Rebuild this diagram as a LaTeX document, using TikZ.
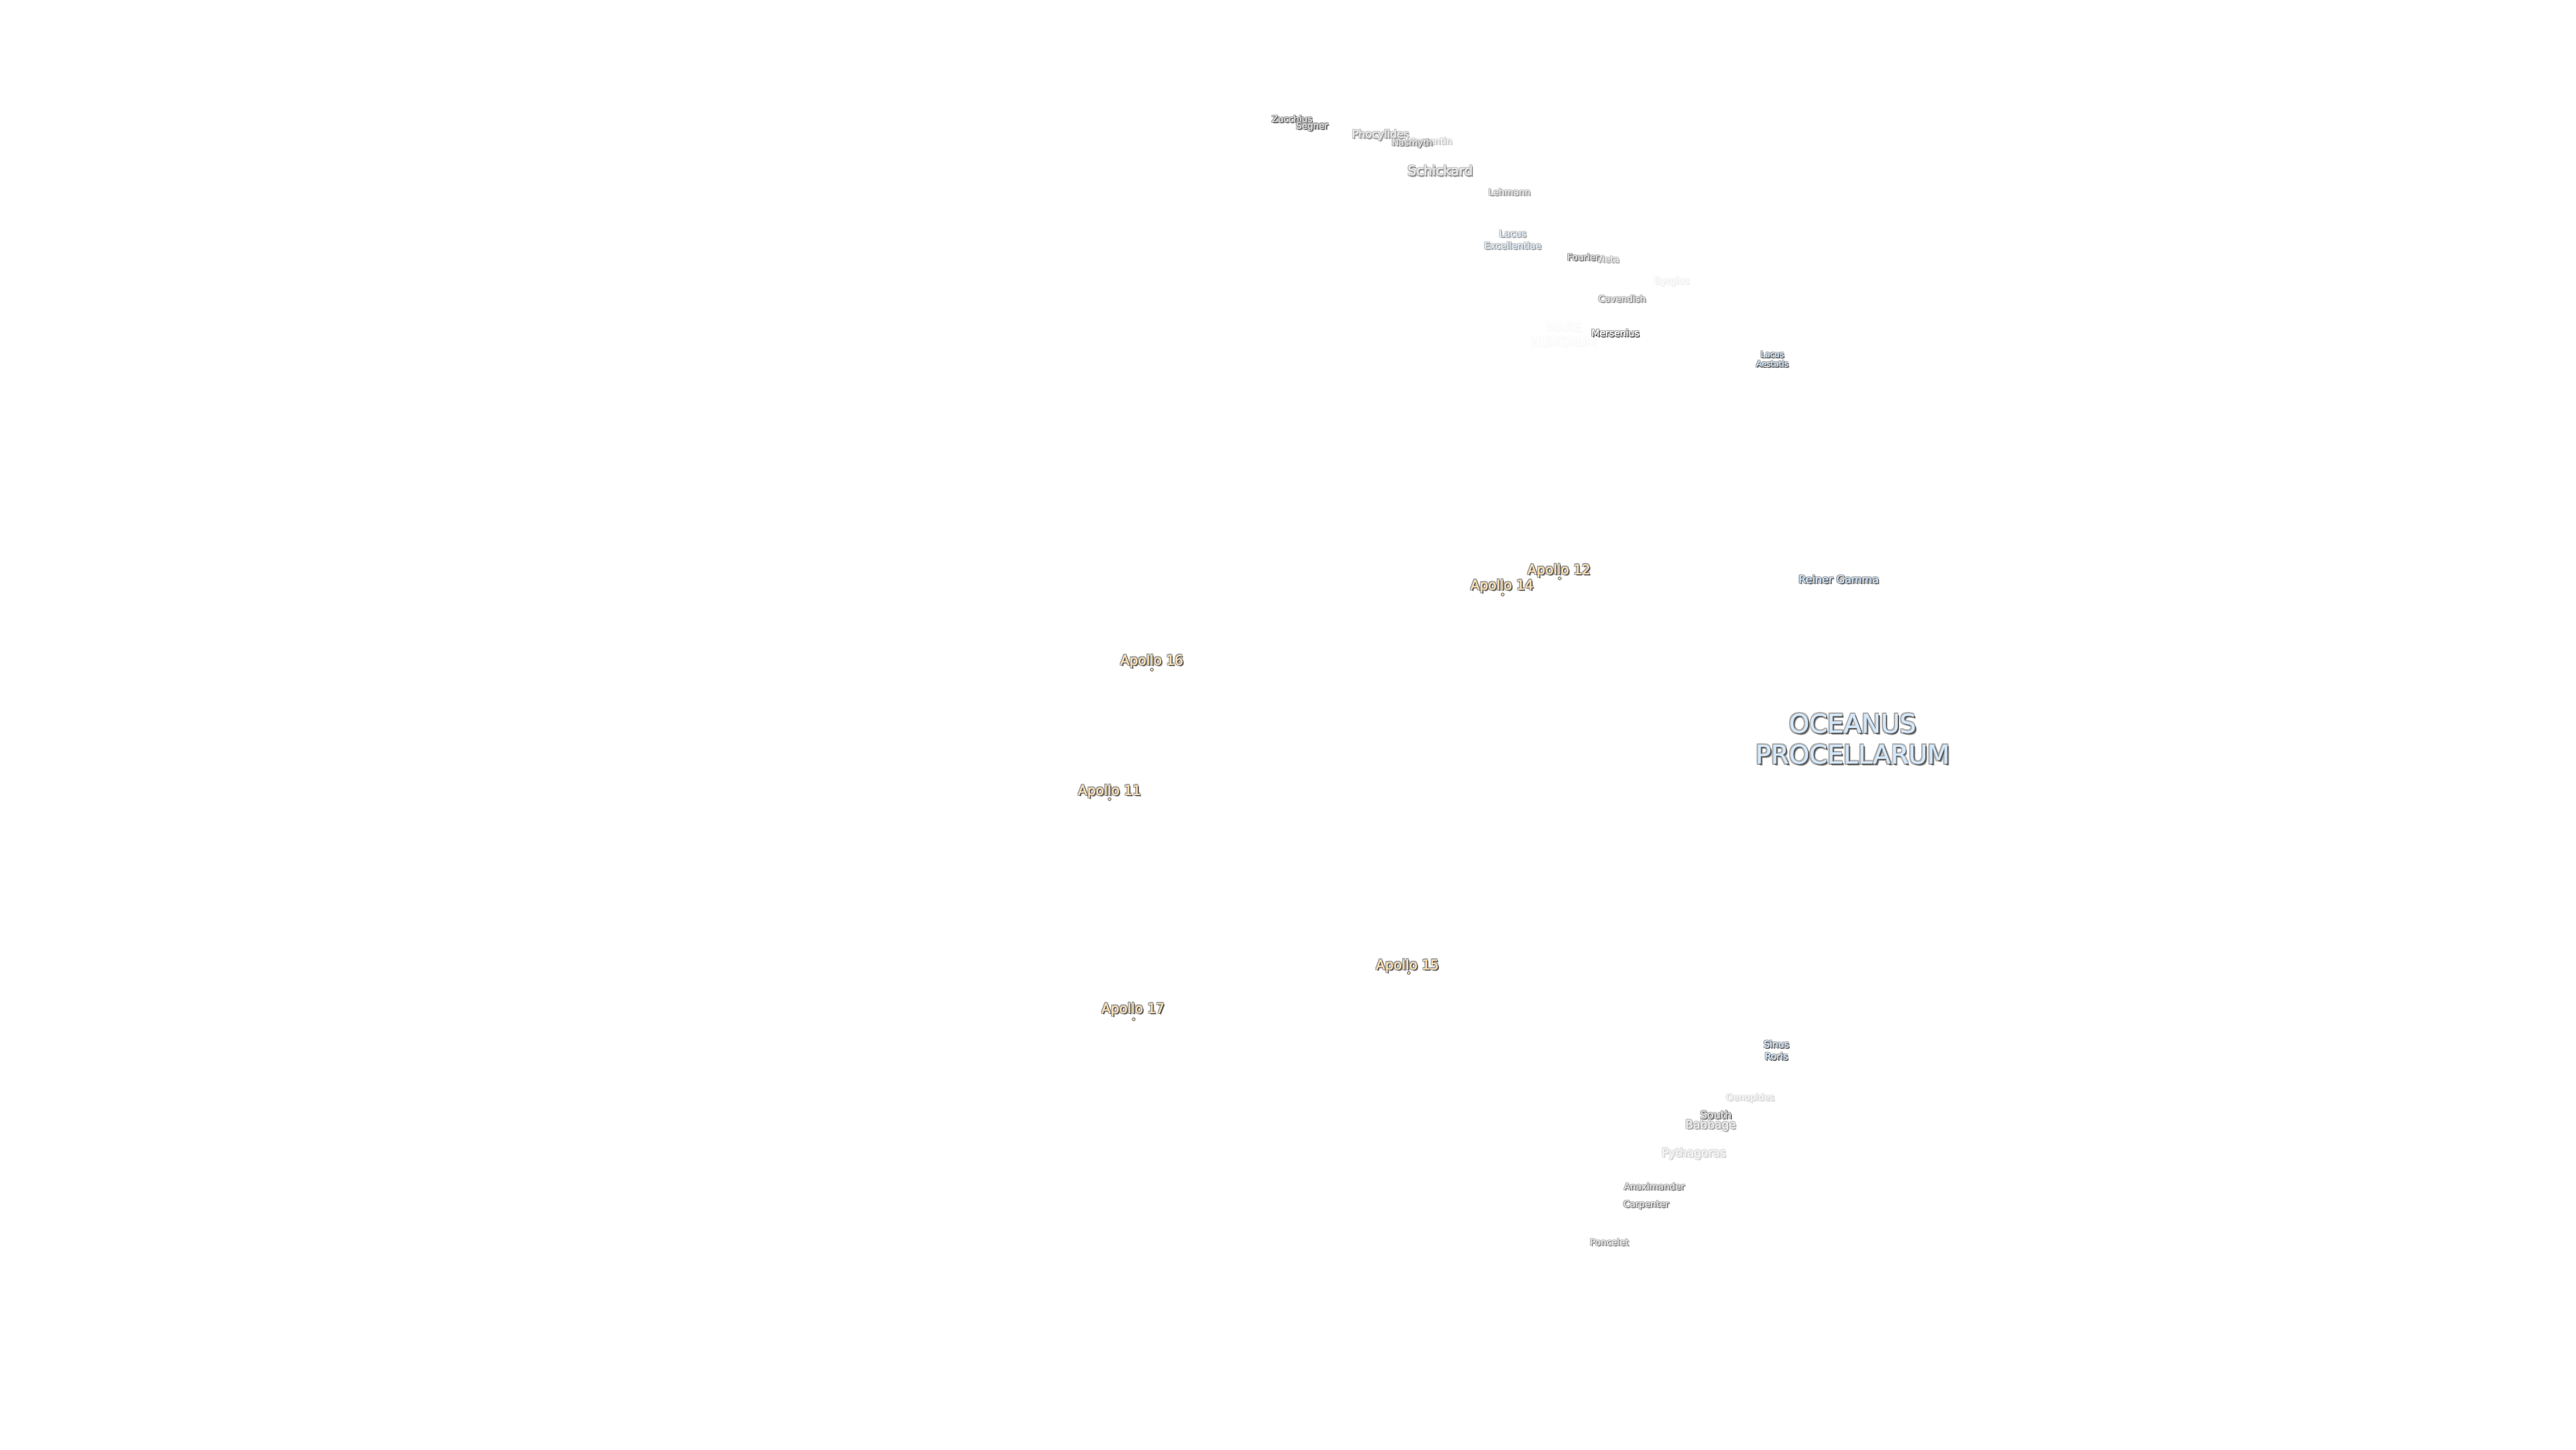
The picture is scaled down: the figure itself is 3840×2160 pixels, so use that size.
\documentclass[tikz,border=0pt]{standalone}
\usepackage{fontspec}
\setmainfont{DejaVu Sans}
\definecolor{apollofill}{HTML}{FFE2B4}
\definecolor{marefill}{HTML}{CFE5FA}
\definecolor{craterfill}{HTML}{E0E0E0}
\definecolor{halocol}{HTML}{A2A2A2}
\definecolor{shadecol}{HTML}{484848}
\newcommand{\lyr}[4]{\makebox[0pt][l]{\kern#1bp\raisebox{#2bp}{\textcolor{#3}{#4}}}}
\newcommand{\fx}[1]{\leavevmode%
 \lyr{-\hr}{0}{lh}{#1}\lyr{\hr}{0}{lh}{#1}\lyr{0}{\hr}{lh}{#1}\lyr{0}{-\hr}{lh}{#1}%
 \lyr{-\hr}{\hr}{lh}{#1}\lyr{\hr}{\hr}{lh}{#1}\lyr{-\hr}{-\hr}{lh}{#1}\lyr{\hr}{-\hr}{lh}{#1}%
 \lyr{\dr}{-\dr}{lh}{#1}\lyr{\sr}{-\sr}{ls}{#1}\lyr{0.3}{0}{lf}{#1}\textcolor{lf}{#1}}
% name, x, y, size, line spacing, fade, fill, text
\newcommand{\place}[8]{%
 \colorlet{lh}{halocol!#6!white}\colorlet{ls}{shadecol!#6!white}\colorlet{lf}{#7!#6!white}%
 \pgfmathsetmacro{\hr}{0.9+0.02*#4}\pgfmathsetmacro{\sr}{0.9+0.035*#4}\pgfmathsetmacro{\dr}{\sr+0.7}%
 \node[moonlabel,font=\fontsize{#4bp}{#5bp}\selectfont] (#1) at (#2,#3) {#8};}
\tikzset{
 moonlabel/.style={inner sep=0pt,outer sep=0pt,align=center},
 landing/.style={circle,inner sep=0pt,minimum size=4.5bp,fill=apollofill,draw=shadecol!80!white,line width=1bp}
}
\begin{document}
\begin{tikzpicture}[x=1bp,y=-1bp]
\useasboundingbox[fill=white] (0,0) rectangle (3840,2160);
\place{zucchius}{1926}{178}{13.5}{16}{100}{craterfill}{\fx{Zucchius}}
\place{segner}{1956}{189}{13.5}{16}{100}{craterfill}{\fx{Segner}}
\place{phocylides}{2058}{202}{16}{19}{60}{craterfill}{\fx{Phocylides}}
\place{wargentin}{2130}{212}{13.5}{16}{35}{craterfill}{\fx{Wargentin}}
\place{nasmyth}{2105}{214}{13.5}{16}{75}{craterfill}{\fx{Nasmyth}}
\place{schickard}{2147}{255}{20}{24}{65}{craterfill}{\fx{Schickard}}
\place{lehmann}{2250}{287}{13.5}{16}{65}{craterfill}{\fx{Lehmann}}
\place{excellentiae}{2255}{358}{14}{18}{60}{marefill}{\fx{Lacus}\\\fx{Excellentiae}}
\place{vieta}{2396.5}{387}{13.5}{16}{55}{craterfill}{\fx{Vieta}}
\place{fourier}{2360}{384}{13.5}{16}{85}{craterfill}{\fx{Fourier}}
\place{byrgius}{2492}{420}{14}{17}{10}{craterfill}{\fx{Byrgius}}
\place{cavendish}{2418}{446}{13.5}{16}{70}{craterfill}{\fx{Cavendish}}
\place{humorum}{2331}{499}{18}{22}{3}{marefill}{\fx{MARE}\\\fx{HUMORUM}}
\place{mersenius}{2408}{497}{14}{17}{100}{white}{\fx{Mersenius}}
\place{aestatis}{2642}{536}{12}{14}{100}{marefill}{\fx{Lacus}\\\fx{Aestatis}}
\place{apollo12}{2324}{851}{20}{24}{100}{apollofill}{\fx{Apollo 12}}
\place{apollo14}{2239}{874}{20}{24}{100}{apollofill}{\fx{Apollo 14}}
\place{reiner}{2741}{864}{16}{19}{100}{marefill}{\fx{Reiner Gamma}}
\place{apollo16}{1717}{986}{20}{24}{100}{apollofill}{\fx{Apollo 16}}
\place{oceanus}{2762}{1102}{38.5}{46}{90}{marefill}{\fx{OCEANUS}\\\fx{PROCELLARUM}}
\place{apollo11}{1654}{1180}{20}{24}{100}{apollofill}{\fx{Apollo 11}}
\place{apollo15}{2098}{1440}{20}{24}{100}{apollofill}{\fx{Apollo 15}}
\place{apollo17}{1689}{1505}{20}{24}{100}{apollofill}{\fx{Apollo 17}}
\place{roris}{2648}{1566}{14}{18}{95}{marefill}{\fx{Sinus}\\\fx{Roris}}
\place{oenopides}{2609}{1637}{13.5}{16}{25}{craterfill}{\fx{Oenopides}}
\place{babbage}{2550}{1678}{17}{20}{55}{craterfill}{\fx{Babbage}}
\place{south}{2558}{1662}{16}{19}{90}{craterfill}{\fx{South}}
\place{pythagoras}{2525}{1720}{17}{20}{28}{craterfill}{\fx{Pythagoras}}
\place{anaximander}{2466}{1769}{13.5}{16}{80}{craterfill}{\fx{Anaximander}}
\place{carpenter}{2454}{1796}{13.5}{16}{80}{craterfill}{\fx{Carpenter}}
\place{poncelet}{2399}{1852}{13.5}{16}{70}{craterfill}{\fx{Poncelet}}
\node[landing] (dot12) at (2325,862) {};
\node[landing] (dot14) at (2240,886) {};
\node[landing] (dot16) at (1717,998) {};
\node[landing] (dot11) at (1654,1191) {};
\node[landing] (dot15) at (2100,1450) {};
\node[landing] (dot17) at (1690,1519) {};
\end{tikzpicture}
\end{document}
